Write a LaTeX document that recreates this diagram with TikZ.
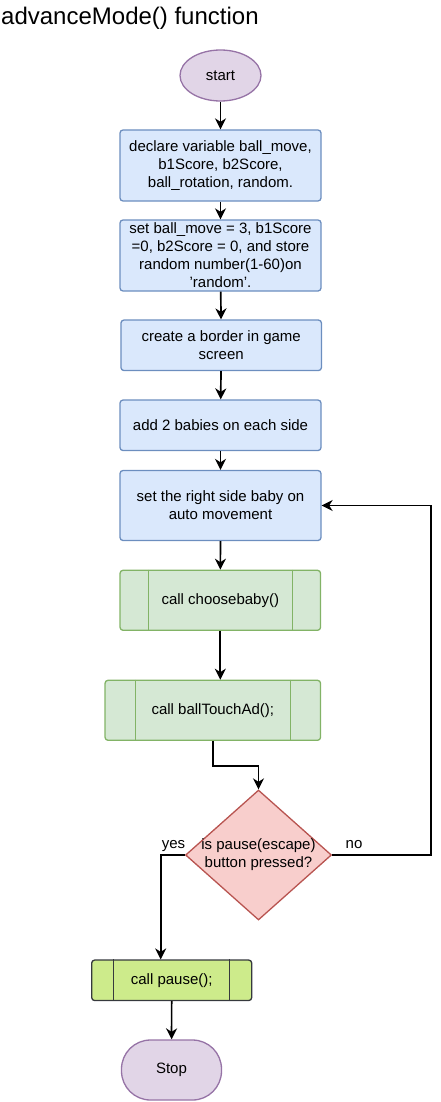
\documentclass[tikz,border=0pt]{standalone}
\usepackage{fontspec}
\setmainfont{Liberation Sans}
\usetikzlibrary{shapes.geometric,arrows.meta}

\definecolor{purplefill}{HTML}{E1D5E7}
\definecolor{purpleline}{HTML}{9673A6}
\definecolor{bluefill}{HTML}{DAE8FC}
\definecolor{blueline}{HTML}{6C8EBF}
\definecolor{greenfill}{HTML}{D5E8D4}
\definecolor{greenline}{HTML}{82B366}
\definecolor{redfill}{HTML}{F8CECC}
\definecolor{redline}{HTML}{B85450}
\definecolor{limefill}{HTML}{CDEB8B}
\definecolor{limeline}{HTML}{36393D}

\begin{document}
\begin{tikzpicture}[x=1pt,y=-1pt,
  every node/.style={font=\fontsize{15}{18}\selectfont, align=center, inner sep=0pt},
  terminal/.style={draw=purpleline, fill=purplefill, line width=1.3pt},
  process/.style={rectangle, rounded corners=3pt, draw=blueline, fill=bluefill, line width=1.3pt, minimum width=201pt},
  subproc/.style={rectangle, rounded corners=3pt, line width=1.3pt, minimum height=60pt},
  flow/.style={line width=1.7pt, -{Stealth[length=11pt,width=11pt,inset=3.5pt]}}]

\useasboundingbox (0,0) rectangle (441,1102);

\node [anchor=base west, font=\fontsize{24}{28}\selectfont] (title) at (1,25) {advanceMode() function};

% start / stop
\node [terminal, ellipse, minimum width=81pt, minimum height=51pt] (start) at (220.5,75.5) {start};
\node [terminal, rectangle, rounded corners=29pt, minimum width=100pt, minimum height=60pt] (stop) at (171.5,1070) {Stop};

% process boxes
\node [process, minimum height=71pt] (decl) at (220.5,165.5) {declare variable ball\_move,\\b1Score, b2Score,\\ball\_rotation, random.};
\node [process, minimum height=71pt] (init) at (220.5,255.5) {set ball\_move = 3, b1Score\\=0, b2Score = 0, and store\\random number(1-60)on\\'random'.};
\node [process, minimum height=50.5pt, minimum width=200.5pt] (border) at (221.2,345.3) {create a border in game\\screen};
\node [process, minimum height=50.5pt] (babies) at (220.5,425.3) {add 2 babies on each side};
\node [process, minimum height=70pt] (auto) at (220.5,505.5) {set the right side baby on\\auto movement};

% subroutines
\node [subproc, draw=greenline, fill=greenfill, minimum width=200.5pt] (choose) at (220.3,600.3) {call choosebaby()};
\draw [greenline, line width=1.3pt] ([xshift=29pt]choose.north west) -- ([xshift=29pt]choose.south west);
\draw [greenline, line width=1.3pt] ([xshift=-28.5pt]choose.north east) -- ([xshift=-28.5pt]choose.south east);

\node [subproc, draw=greenline, fill=greenfill, minimum width=215.5pt] (touch) at (212.8,710.3) {call ballTouchAd();};
\draw [greenline, line width=1.3pt] ([xshift=31pt]touch.north west) -- ([xshift=31pt]touch.south west);
\draw [greenline, line width=1.3pt] ([xshift=-30.5pt]touch.north east) -- ([xshift=-30.5pt]touch.south east);

\node [subproc, draw=limeline, fill=limefill, minimum width=160pt, minimum height=40.5pt] (pause) at (171.7,980.3) {call pause();};
\draw [limeline, line width=1.3pt] ([xshift=22.7pt]pause.north west) -- ([xshift=22.7pt]pause.south west);
\draw [limeline, line width=1.3pt] ([xshift=-23pt]pause.north east) -- ([xshift=-23pt]pause.south east);

% decision
\node [diamond, draw=redline, fill=redfill, line width=1.3pt, minimum width=146pt, minimum height=130pt] (esc) at (258.5,855) {};
\node (esctxt) at (esc.center) {is pause(escape)\\button pressed?};

% connectors
\coordinate (loop) at (431,855);
\coordinate (bend) at (212.8,765.7);
\coordinate (yesturn) at (160.7,855);

\draw [flow] (start) -- (decl);
\draw [flow] (decl) -- (init);
\draw [flow] (init) -- (border);
\draw [flow] (border) -- (babies);
\draw [flow] (babies) -- (auto);
\draw [flow] (auto) -- (choose);
\draw [flow] (choose.south) -- (choose.south |- touch.north);
\draw [flow] (touch.south) -- (bend) -| (esc.north);
\draw [flow] (esc.east) -- (loop) |- (auto.east);
\draw [flow] (esc.west) -- (yesturn) -- (yesturn |- pause.north);
\draw [flow] (pause) -- (stop);

\node [anchor=base] (yes) at (173.5,848) {yes};
\node [anchor=base] (no) at (354,848) {no};
\end{tikzpicture}
\end{document}
